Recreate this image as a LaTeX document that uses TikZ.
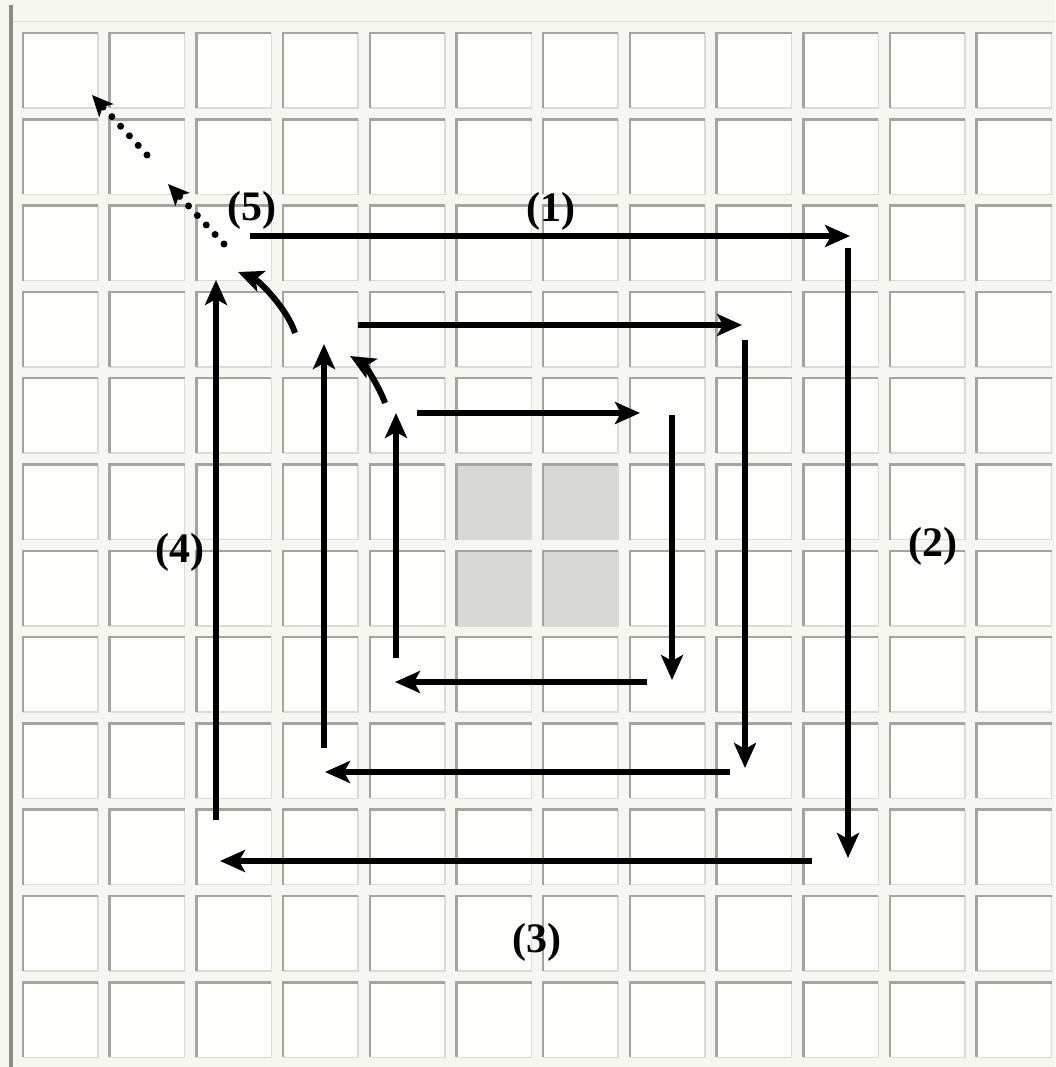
\documentclass[tikz,border=0pt]{standalone}
\usepackage{fontspec}
\setmainfont{Liberation Serif}
\usetikzlibrary{arrows.meta}
\definecolor{bgc}{RGB}{247,247,242}
\definecolor{sqf}{RGB}{253,253,251}
\definecolor{edged}{RGB}{165,165,160}
\definecolor{edgel}{RGB}{220,220,214}
\definecolor{grayf}{RGB}{216,216,214}
\definecolor{frame}{RGB}{140,140,136}
\begin{document}
\begin{tikzpicture}[x=1pt,y=-1pt,
  arr/.style={line width=6pt,-{Stealth[length=25pt,width=22pt,inset=6pt]}},
  dotarr/.style={line width=7pt,line cap=round,dash pattern=on 0.01pt off 13pt,-{Stealth[length=21pt,width=19pt,inset=5pt]}},
  lbl/.style={font=\fontsize{42}{44}\selectfont\bfseries,inner sep=0pt}]
\useasboundingbox (0,0) rectangle (1055,1067);
\fill[bgc] (0,0) rectangle (1055,1067);
\draw[black!12,line width=1pt] (12,22) -- (1055,22);
\draw[frame,line width=3.5pt] (11,5) -- (11,1067);
% grid of squares
\foreach \i in {0,...,11} {
  \foreach \j in {0,...,11} {
    \pgfmathsetmacro\xl{23+86.7*\i}
    \pgfmathsetmacro\yt{33+86.3*\j}
    \fill[sqf] (\xl,\yt) rectangle ++(75,75);
    \draw[edgel,line width=1.5pt] (\xl+75,\yt) -- ++(0,75) -- ++(-75,0);
    \draw[edged,line width=2.5pt] (\xl,\yt+75) -- (\xl,\yt) -- (\xl+75,\yt);
  }
}
% shaded centre squares
\foreach \i/\j in {5/5,6/5,5/6,6/6} {
  \pgfmathsetmacro\xl{23+86.7*\i}
  \pgfmathsetmacro\yt{33+86.3*\j}
  \fill[grayf] (\xl,\yt) rectangle ++(75,75);
  \draw[edged,line width=2.5pt] (\xl,\yt+75) -- (\xl,\yt) -- (\xl+75,\yt);
}
% coordinates
\coordinate (a1s) at (250,236); \coordinate (a1e) at (850,236);
\coordinate (a2s) at (848,248); \coordinate (a2e) at (848,858);
\coordinate (a3s) at (812,861); \coordinate (a3e) at (220,861);
\coordinate (a4s) at (216,820); \coordinate (a4e) at (216,280);
\coordinate (c1s) at (295,333); \coordinate (c1e) at (238,272);
\coordinate (b1s) at (358,325); \coordinate (b1e) at (742,325);
\coordinate (b2s) at (745,340); \coordinate (b2e) at (745,768);
\coordinate (b3s) at (730,772); \coordinate (b3e) at (325,772);
\coordinate (b4s) at (324,748); \coordinate (b4e) at (324,344);
\coordinate (c2s) at (385,403); \coordinate (c2e) at (350,356);
\coordinate (i1s) at (417,413); \coordinate (i1e) at (640,413);
\coordinate (i2s) at (672,415); \coordinate (i2e) at (672,680);
\coordinate (i3s) at (647,682); \coordinate (i3e) at (395,682);
\coordinate (i4s) at (396,658); \coordinate (i4e) at (396,413);
\coordinate (d1s) at (224,244); \coordinate (d1e) at (168,184);
\coordinate (d2s) at (147,155); \coordinate (d2e) at (92,95);
% outer loop
\draw[arr] (a1s) -- (a1e);
\draw[arr] (a2s) -- (a2e);
\draw[arr] (a3s) -- (a3e);
\draw[arr] (a4s) -- (a4e);
\draw[arr] (c1s) .. controls (287,308) and (258,280) .. (c1e);
% middle loop
\draw[arr] (b1s) -- (b1e);
\draw[arr] (b2s) -- (b2e);
\draw[arr] (b3s) -- (b3e);
\draw[arr] (b4s) -- (b4e);
\draw[arr] (c2s) .. controls (380,388) and (364,364) .. (c2e);
% inner loop
\draw[arr] (i1s) -- (i1e);
\draw[arr] (i2s) -- (i2e);
\draw[arr] (i3s) -- (i3e);
\draw[arr] (i4s) -- (i4e);
% dotted continuation
\draw[dotarr] (d1s) -- (d1e);
\draw[dotarr] (d2s) -- (d2e);
% labels
\node[lbl] (l1) at (551,211) {(1)};
\node[lbl] (l2) at (933,546) {(2)};
\node[lbl] (l3) at (537,942) {(3)};
\node[lbl] (l4) at (180,552) {(4)};
\node[lbl] (l5) at (252,210) {(5)};
\end{tikzpicture}
\end{document}
